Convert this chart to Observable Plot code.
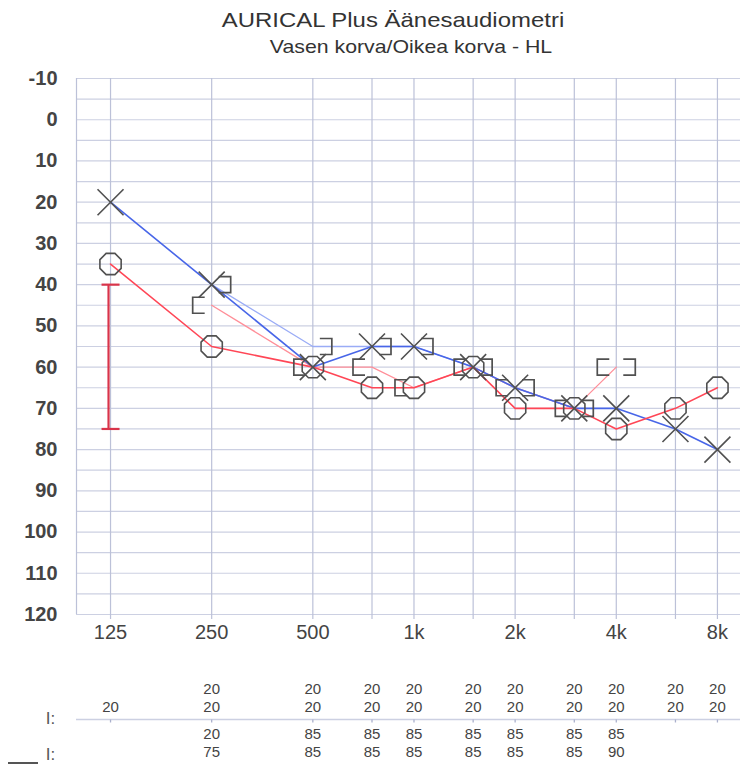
<!DOCTYPE html>
<html><head><meta charset="utf-8">
<script src="https://cdn.jsdelivr.net/npm/d3@7"></script>
<script src="https://cdn.jsdelivr.net/npm/@observablehq/plot@0.6"></script>
<style>
body{margin:0;background:#fff;font-family:"Liberation Sans",Arial,sans-serif;}
#wrap{position:relative;width:740px;height:765px;overflow:hidden;background:#fff;}
#title{position:absolute;left:393px;top:9px;transform:translateX(-50%) scaleX(1.14);font-size:21px;line-height:21px;white-space:nowrap;color:#333;}
#subtitle{position:absolute;left:411px;top:37px;transform:translateX(-50%) scaleX(1.12);font-size:19px;line-height:19px;white-space:nowrap;color:#333;}
#chart{position:absolute;left:0;top:65px;}
#mark{position:absolute;left:8px;top:762px;width:30px;height:2px;background:#555;}
</style></head>
<body>
<div id="wrap">
  <div id="title">AURICAL Plus Äänesaudiometri</div>
  <div id="subtitle">Vasen korva/Oikea korva - HL</div>
  <div id="chart"></div>
  <div id="mark"></div>
</div>
<script>
// ---- data ----
const freqs = [125, 250, 500, 750, 1000, 1500, 2000, 3000, 4000, 6000, 8000];
const leftAir = [20, 40, 60, 55, 55, 60, 65, 70, 70, 75, 80];   // X, blue
const rightAir = [35, 55, 60, 65, 65, 60, 70, 70, 75, 70, 65];  // O, red
const boneFreqs = [250, 500, 750, 1000, 1500, 2000, 3000, 4000];
const leftBone = [40, 55, 55, 55, 60, 65, 70, 60];   // ]
const rightBone = [45, 60, 60, 65, 60, 65, 70, 60];  // [
const leftBoneLineCount = 7; // light blue line ends at 3k
const rangeFreq = 125, rangeLow = 40, rangeHigh = 75;
const xTicks = [125, 250, 500, 1000, 2000, 4000, 8000];
const xTickLabels = ["125", "250", "500", "1k", "2k", "4k", "8k"];
const yTicks = [-10, 0, 10, 20, 30, 40, 50, 60, 70, 80, 90, 100, 110, 120];
const row1Top = [null, 20, 20, 20, 20, 20, 20, 20, 20, 20, 20];
const row1Bottom = [20, 20, 20, 20, 20, 20, 20, 20, 20, 20, 20];
const row2Top = [null, 20, 85, 85, 85, 85, 85, 85, 85, null, null];
const row2Bottom = [null, 75, 85, 85, 85, 85, 85, 85, 90, null, null];
const rowLabels = ["I:", "I:"];

// ---- derived tables ----
const leftAirData = freqs.map((f, i) => ({f, v: leftAir[i]}));
const rightAirData = freqs.map((f, i) => ({f, v: rightAir[i]}));
const leftBoneData = boneFreqs.map((f, i) => ({f, v: leftBone[i]}));
const rightBoneData = boneFreqs.map((f, i) => ({f, v: rightBone[i]}));
const pairs = (top, bottom) => freqs.map((f, i) => ({f, top: top[i], bottom: bottom[i]}))
  .filter(d => d.top != null || d.bottom != null);
const row1 = pairs(row1Top, row1Bottom);
const row2 = pairs(row2Top, row2Bottom);
const tickData = xTicks.map((f, i) => ({f, label: xTickLabels[i]}));
const pairText = d => d.top == null ? String(d.bottom) : d.top + "\n" + d.bottom;

// ---- custom symbols ----
const rOf = (size) => Math.sqrt(size / Math.PI);
const symX = {draw(c, size){const r = rOf(size); c.moveTo(-r,-r); c.lineTo(r,r); c.moveTo(r,-r); c.lineTo(-r,r);}};
const symO = {draw(c, size){const r = rOf(size); for (let k = 0; k < 8; k++){const a = Math.PI/8 + k*Math.PI/4; const px = r*Math.cos(a), py = r*Math.sin(a); k ? c.lineTo(px,py) : c.moveTo(px,py);} c.closePath();}};
const symLB = {draw(c, size){const r = rOf(size); c.moveTo(r*0.75,-r); c.lineTo(-r*0.75,-r); c.lineTo(-r*0.75,r); c.lineTo(r*0.75,r);}};
const symRB = {draw(c, size){const r = rOf(size); c.moveTo(-r*0.75,-r); c.lineTo(r*0.75,-r); c.lineTo(r*0.75,r); c.lineTo(-r*0.75,r);}};
const symH = {draw(c, size){const r = rOf(size); c.moveTo(-r,0); c.lineTo(r,0);}};
const symV = {draw(c, size){const r = rOf(size); c.moveTo(0,0); c.lineTo(0,r);}};

const grid = "#ccd0e2";
const vgrid = "#bcc1d8";
const ink = "#505050";

const plot = Plot.plot({
  width: 740, height: 700,
  marginLeft: 76, marginRight: 0, marginTop: 13, marginBottom: 151,
  style: {fontFamily: "Liberation Sans, Arial, sans-serif", background: "transparent", overflow: "visible"},
  x: {type: "log", domain: [99, 9370], axis: null},
  y: {domain: [-10, 120], reverse: true},
  marks: [
    Plot.ruleY(d3.range(-10, 121, 5), {stroke: grid, strokeWidth: 1.2}),
    Plot.ruleX(freqs, {y1: -10, y2: 120, stroke: vgrid, strokeWidth: 1.2, insetBottom: -5}),
    Plot.ruleX([99], {y1: -10, y2: 120, stroke: vgrid, strokeWidth: 1.2}),
    // separator of the table
    Plot.ruleY([120], {dy: 105, stroke: grid, strokeWidth: 1.3}),
    Plot.dot(freqs, {x: d => d, y: () => 120, dy: 105, symbol: symV, r: 3, stroke: "#aab0cc", strokeWidth: 1.3}),
    // bone conduction lines
    Plot.line(leftBoneData.slice(0, leftBoneLineCount), {x: "f", y: "v", stroke: "#9aacf6", strokeWidth: 1.3}),
    Plot.line(rightBoneData, {x: "f", y: "v", stroke: "#ff8e98", strokeWidth: 1.3}),
    // air conduction lines
    Plot.line(leftAirData, {x: "f", y: "v", stroke: "#4866e8", strokeWidth: 1.6}),
    Plot.line(rightAirData, {x: "f", y: "v", stroke: "#ff4656", strokeWidth: 1.6}),
    // range bar at 125
    Plot.ruleX([rangeFreq], {y1: rangeLow, y2: rangeHigh, dx: -2, stroke: "#d9344a", strokeWidth: 2.2}),
    Plot.dot([rangeLow, rangeHigh], {x: () => rangeFreq, y: d => d, symbol: symH, r: 9, stroke: "#d9344a", strokeWidth: 2.2}),
    // markers
    Plot.dot(leftAirData, {x: "f", y: "v", symbol: symX, r: 13, stroke: ink, strokeWidth: 1.6}),
    Plot.dot(rightAirData, {x: "f", y: "v", symbol: symO, r: 11.5, stroke: ink, strokeWidth: 1.6, fill: "none"}),
    Plot.dot(rightBoneData, {x: "f", y: "v", symbol: symLB, r: 8, dx: -13, stroke: ink, strokeWidth: 1.7, fill: "none"}),
    Plot.dot(leftBoneData, {x: "f", y: "v", symbol: symRB, r: 8, dx: 13, stroke: ink, strokeWidth: 1.7, fill: "none"}),
    // axes
    Plot.axisY({ticks: yTicks, tickFormat: d => String(d), tickSize: 0, tickPadding: 19, fontSize: 20, fontWeight: "bold", fill: "#444", label: null}),
    Plot.text(tickData, {x: "f", y: () => 120, dy: 18, text: "label", fontSize: 20, fill: "#444"}),
    // table
    Plot.text(row1, {x: "f", y: () => 120, text: pairText, lineAnchor: "bottom", lineHeight: 1.15, fontSize: 15, fill: "#444", dy: 97}),
    Plot.text(row2, {x: "f", y: () => 120, text: pairText, lineAnchor: "bottom", lineHeight: 1.15, fontSize: 15, fill: "#444", dy: 142}),
    Plot.text([rowLabels[0]], {frameAnchor: "left", y: () => 120, dy: 104, dx: -26, text: d => d, fontSize: 17, fill: "#555", textAnchor: "middle"}),
    Plot.text([rowLabels[1]], {frameAnchor: "left", y: () => 120, dy: 140, dx: -26, text: d => d, fontSize: 17, fill: "#555", textAnchor: "middle"})
  ]
});
document.getElementById("chart").appendChild(plot);
</script>
</body></html>
